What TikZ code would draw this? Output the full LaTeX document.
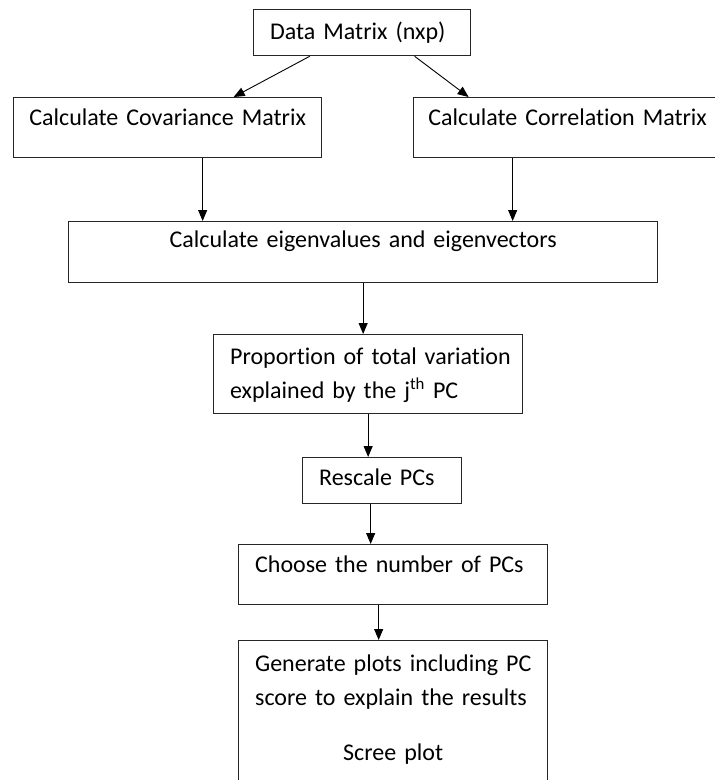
\documentclass[tikz,border=0pt]{standalone}
\usepackage{fontspec}
\setmainfont{Carlito}[WordSpace=0.5, Ligatures=NoCommon]
\usepackage{tikz}
\usetikzlibrary{arrows.meta, calc}

\begin{document}
\begin{tikzpicture}[>={Triangle[length=11pt, width=9pt]}, x=1pt, y=-1pt,
    box/.style={draw=black!85, line width=1.3pt, anchor=north west, inner ysep=0pt,
        font=\fontsize{24}{33.5}\selectfont},
    ctr/.style={box, inner xsep=0pt, align=center},
    lft/.style={box, inner xsep=16.5pt, align=left},
    arr/.style={->, line width=0.9pt, black}]
\useasboundingbox (0,0) rectangle (715,780);
\clip (0,0) rectangle (715,780);
    \node[lft, text width=184pt, text height=30pt, text depth=16pt] (data) at (253,9) {\mbox{Data Matrix (nxp)}};
    \node[ctr, text width=308pt, text height=28pt, text depth=32pt] (cov) at (13,97) {\mbox{Calculate Covariance Matrix}};
    \node[ctr, text width=308pt, text height=28pt, text depth=32pt] (corr) at (413,97) {\mbox{Calculate Correlation Matrix}};
    \node[ctr, text width=589pt, text height=26pt, text depth=35pt] (eigen) at (68,221) {\mbox{Calculate eigenvalues and eigenvectors}};
    \node[lft, text width=276pt, text height=30pt, text depth=49pt] (prop) at (213,334)
        {\mbox{Proportion of total variation}\\\mbox{explained by the j\textsuperscript{th} PC}};
    \node[lft, text width=126pt, text height=28pt, text depth=18pt] (rescale) at (302,457) {\mbox{Rescale PCs}};
    \node[lft, text width=276pt, text height=28pt, text depth=32pt] (choose) at (238,544) {\mbox{Choose the number of PCs}};
    \node[lft, text width=276pt, text height=31pt, text depth=129pt] (gen) at (238,640)
        {\mbox{Generate plots including PC}\\\mbox{score to explain the results}\\[21.5pt]\makebox[\linewidth][c]{Scree plot}};
    \draw[arr] ($(data.south)+(-52.5,0)$) -- ($(cov.north)+(66,0)$);
    \draw[arr] ($(data.south)+(52.5,0)$) -- ($(corr.north)+(-99,0)$);
    \draw[arr] ($(cov.south)+(35,0)$) -- ($(cov.south |- eigen.north)+(35,0)$);
    \draw[arr] ($(corr.south)+(-55,0)$) -- ($(corr.south |- eigen.north)+(-55,0)$);
    \draw[arr] (eigen.south) -- (eigen.south |- prop.north);
    \draw[arr] (prop.south) -- (prop.south |- rescale.north);
    \draw[arr] ($(rescale.south)+(-11.5,0)$) -- ($(rescale.south |- choose.north)+(-11.5,0)$);
    \draw[arr] ($(choose.south)+(-14.5,0)$) -- ($(choose.south |- gen.north)+(-14.5,0)$);
\end{tikzpicture}
\end{document}
